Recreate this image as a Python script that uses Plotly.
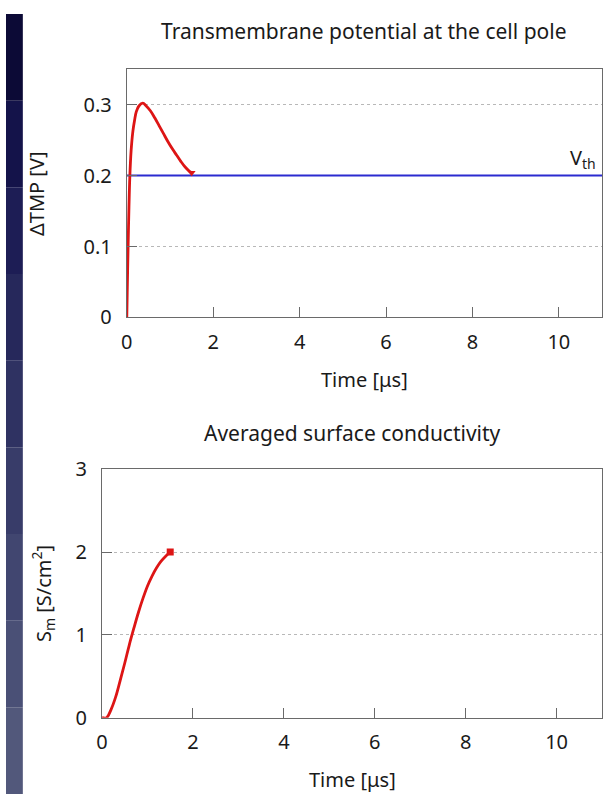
import plotly.graph_objects as go

# ---- data ----
tmp_time = [0, 0.01, 0.02, 0.03, 0.05, 0.07, 0.1, 0.14, 0.18, 0.22, 0.28, 0.37,
            0.45, 0.55, 0.65, 0.75, 0.85, 0.95, 1.05, 1.15, 1.25, 1.35, 1.45, 1.5]
tmp_value = [0, 0.035, 0.068, 0.1, 0.155, 0.198, 0.235, 0.262, 0.278, 0.29, 0.298, 0.302,
             0.298, 0.291, 0.281, 0.27, 0.259, 0.248, 0.238, 0.229, 0.22, 0.212, 0.206, 0.204]
vth_time = [0, 11]
vth_value = [0.2, 0.2]

sm_time = [0, 0.1, 0.2, 0.3, 0.4, 0.5, 0.6, 0.7, 0.8, 0.9, 1.0, 1.1, 1.2, 1.3, 1.4, 1.5]
sm_value = [0, 0.0, 0.1, 0.25, 0.45, 0.66, 0.88, 1.08, 1.27, 1.44, 1.59, 1.71, 1.81, 1.89, 1.95, 2.0]

x_ticks = [0, 2, 4, 6, 8, 10]
tmp_ticks = [0, 0.1, 0.2, 0.3]
sm_ticks = [0, 1, 2, 3]

W, H = 608, 807


def px(x):
    return x / W


def py(y):
    return 1 - y / H


FONT = "Noto Sans"
RED = "#dd1515"
BLUE = "#2b2bd0"
TXT = "#1a1a1a"

fig = go.Figure()

fig.add_trace(go.Scatter(x=vth_time, y=vth_value, mode="lines",
                         line=dict(color=BLUE, width=2), xaxis="x", yaxis="y",
                         showlegend=False, hoverinfo="skip"))
fig.add_trace(go.Scatter(x=tmp_time, y=tmp_value, mode="lines",
                         line=dict(color=RED, width=2.8, shape="spline"),
                         xaxis="x", yaxis="y", showlegend=False))
fig.add_trace(go.Scatter(x=tmp_time[-1:], y=tmp_value[-1:], mode="markers",
                         marker=dict(color=RED, size=7, symbol="triangle-down"),
                         xaxis="x", yaxis="y", showlegend=False))
fig.add_trace(go.Scatter(x=sm_time, y=sm_value, mode="lines",
                         line=dict(color=RED, width=2.8, shape="spline"),
                         xaxis="x2", yaxis="y2", showlegend=False))
fig.add_trace(go.Scatter(x=sm_time[-1:], y=sm_value[-1:], mode="markers",
                         marker=dict(color=RED, size=7, symbol="square"),
                         xaxis="x2", yaxis="y2", showlegend=False))

axis_common = dict(showline=True, linecolor="#6a6a6a", linewidth=1.2, mirror=True,
                   ticks="inside", ticklen=10, tickcolor="#6a6a6a", tickwidth=1.2,
                   tickfont=dict(family=FONT, size=20, color=TXT), zeroline=False)

top_x = [px(122), px(602)]
top_y = [py(314), py(57)]
bot_x = [px(97), px(602)]
bot_y = [py(728), py(471)]

fig.update_layout(
    width=W, height=H,
    margin=dict(l=0, r=0, t=0, b=0),
    paper_bgcolor="white", plot_bgcolor="white",
    xaxis=dict(domain=top_x, range=[0, 11], tickvals=x_ticks, showgrid=False,
               anchor="y", ticklabelstandoff=6, **axis_common),
    yaxis=dict(domain=top_y, range=[0, 0.35], tickvals=tmp_ticks,
               ticktext=["0", "0.1", "0.2", "0.3"],
               showgrid=True, gridcolor="#b8b8b8", griddash="dot", gridwidth=1,
               anchor="x", ticklabelstandoff=10, **axis_common),
    xaxis2=dict(domain=bot_x, range=[0, 11], tickvals=x_ticks, showgrid=False,
                anchor="y2", ticklabelstandoff=6, **axis_common),
    yaxis2=dict(domain=bot_y, range=[0, 3], tickvals=sm_ticks,
                showgrid=True, gridcolor="#b8b8b8", griddash="dot", gridwidth=1,
                anchor="x2", ticklabelstandoff=10, **axis_common),
)

# dark slide strip on the left edge (vertical gradient)
strip_cols = ["#0c0a36", "#14134a", "#1d1d55", "#26285b", "#2f3262", "#383c69",
              "#414670", "#4a5076", "#52587b"]
n = len(strip_cols)
for i, c in enumerate(strip_cols):
    fig.add_shape(type="rect", xref="paper", yref="paper",
                  x0=0, x1=px(17), y0=1 - (i + 1) / n, y1=1 - i / n,
                  fillcolor=c, line=dict(width=0), layer="below")

ann_font = dict(family=FONT, size=20, color=TXT)
title_font = dict(family=FONT, size=21, color=TXT)
anns = [
    dict(text="Transmembrane potential at the cell pole", x=sum(top_x) / 2, y=py(18),
         font=title_font),
    dict(text="Time [μs]", x=sum(top_x) / 2, y=py(378), font=ann_font),
    dict(text="Averaged surface conductivity", x=sum(bot_x) / 2, y=py(433),
         font=title_font),
    dict(text="Time [μs]", x=sum(bot_x) / 2, y=py(792), font=ann_font),
    dict(text="ΔTMP [V]", x=px(31), y=sum(top_y) / 2, textangle=-90, font=ann_font),
    dict(text="S<sub>m</sub> [S/cm<sup>2</sup>]", x=px(38), y=sum(bot_y) / 2,
         textangle=-90, font=ann_font),
]
for a in anns:
    fig.add_annotation(xref="paper", yref="paper", showarrow=False,
                       xanchor="center", yanchor="middle", **a)

fig.add_annotation(xref="x", yref="y", x=10.9, y=0.2, text="V<sub>th</sub>",
                   showarrow=False, xanchor="right", yanchor="bottom", yshift=1,
                   font=dict(family=FONT, size=20, color=TXT))

fig.write_html("out.html")
